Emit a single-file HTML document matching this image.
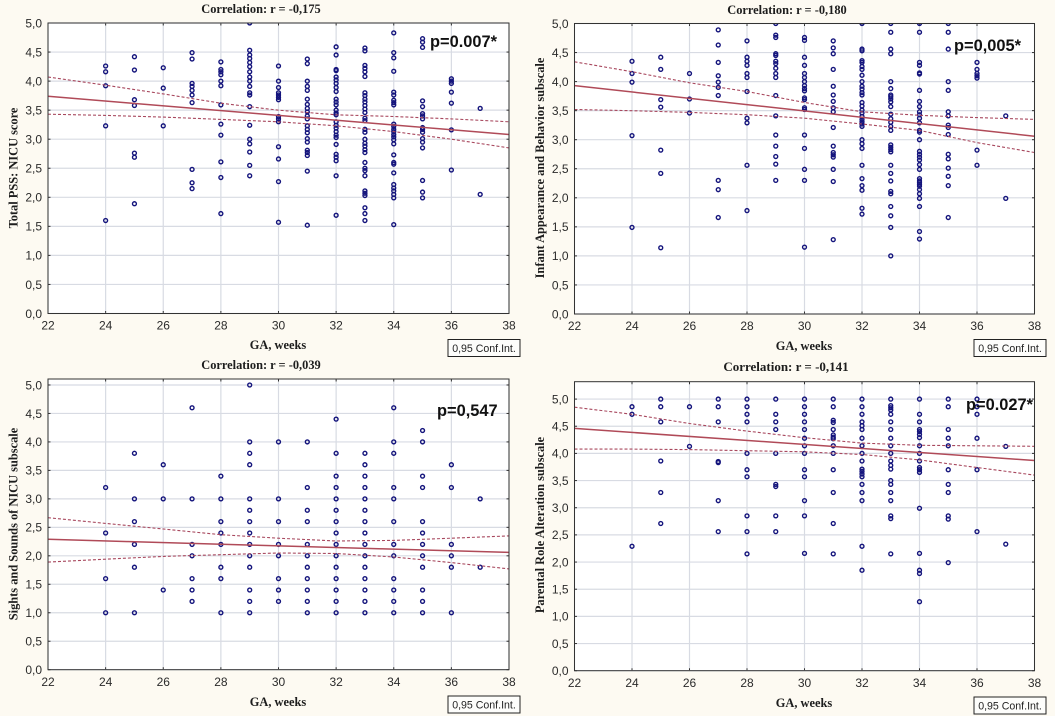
<!DOCTYPE html>
<html lang="en">
<head>
<meta charset="utf-8">
<title>PSS: NICU correlations with gestational age</title>
<style>
  html, body { margin: 0; padding: 0; background: #fdfaf2; }
  body { width: 1055px; height: 716px; overflow: hidden; }
  svg { display: block; filter: blur(0.3px); }
  .title, .xtitle, .ytitle { font-family: "Liberation Serif", serif; font-weight: bold; fill: #1d1d1d; }
  .title { font-size: 12.4px; text-anchor: middle; }
  .xtitle { font-size: 12.4px; text-anchor: middle; }
  .ytitle { font-size: 12.4px; text-anchor: middle; }
  .tick { font-family: "Liberation Sans", sans-serif; font-size: 12px; fill: #2b2b2b; }
  .pval { font-family: "Liberation Sans", sans-serif; font-weight: bold; font-size: 16.4px; fill: #111; }
  .conf { font-family: "Liberation Sans", sans-serif; font-size: 10.6px; fill: #222; text-anchor: middle; }
</style>
</head>
<body>
<svg id="figure" width="1055" height="716" viewBox="0 0 1055 716" xmlns="http://www.w3.org/2000/svg">
  <rect x="0" y="0" width="1055" height="716" fill="#fdfaf2"/>

  <g id="panel-a"></g>
  <g id="panel-b"></g>
  <g id="panel-c"></g>
  <g id="panel-d"></g>

  <text class="title" x="261" y="13">Correlation: r = -0,175</text>
  <text class="xtitle" x="278" y="349">GA, weeks</text>
  <text class="ytitle" transform="translate(17.5,168) rotate(-90)">Total PSS: NICU score</text>
  <text class="pval" x="430" y="47">p=0.007*</text>
  <rect x="448" y="339.5" width="72" height="17" fill="#fdfdfb" stroke="#222" stroke-width="1"/>
  <text class="conf" x="484" y="352">0,95 Conf.Int.</text>

  <text class="title" x="787" y="14">Correlation: r = -0,180</text>
  <text class="xtitle" x="804" y="350">GA, weeks</text>
  <text class="ytitle" transform="translate(544,168) rotate(-90)">Infant Appearance and Behavior subscale</text>
  <text class="pval" x="954" y="51">p=0,005*</text>
  <rect x="974" y="339.5" width="72" height="17" fill="#fdfdfb" stroke="#222" stroke-width="1"/>
  <text class="conf" x="1010" y="352">0,95 Conf.Int.</text>

  <text class="title" x="261" y="369">Correlation: r = -0,039</text>
  <text class="xtitle" x="278" y="706">GA, weeks</text>
  <text class="ytitle" transform="translate(17.5,524) rotate(-90)">Sights and Sounds of NICU subscale</text>
  <text class="pval" x="437" y="416">p=0,547</text>
  <rect x="448" y="696" width="72" height="17" fill="#fdfdfb" stroke="#222" stroke-width="1"/>
  <text class="conf" x="484" y="708.5">0,95 Conf.Int.</text>

  <text class="title" x="786" y="371" style="font-size:13px">Correlation: r = -0,141</text>
  <text class="xtitle" x="804" y="707">GA, weeks</text>
  <text class="ytitle" transform="translate(544,525) rotate(-90)">Parental Role Alteration subscale</text>
  <text class="pval" x="966" y="410">p=0.027*</text>
  <rect x="974" y="697" width="72" height="17" fill="#fdfdfb" stroke="#222" stroke-width="1"/>
  <text class="conf" x="1010" y="709.5">0,95 Conf.Int.</text>
</svg>

<script>
// ---- shared axis data ----
const xTicks = [22, 24, 26, 28, 30, 32, 34, 36, 38];
const yTicks = [0, 0.5, 1, 1.5, 2, 2.5, 3, 3.5, 4, 4.5, 5];
const yTickLabels = ["0,0", "0,5", "1,0", "1,5", "2,0", "2,5", "3,0", "3,5", "4,0", "4,5", "5,0"];
const weeks = [24, 25, 26, 27, 28, 29, 30, 31, 32, 33, 34, 35, 36, 37];
const fitEnds = [22, 38];
const bandWeeks = [22, 24, 26, 28, 30, 32, 34, 36, 38];

// ---- Total PSS: NICU score (one list per entry of weeks) ----
const totalPssScores = [
  [4.26, 4.16, 3.92, 3.23, 1.6],
  [4.42, 4.19, 3.68, 3.58, 2.76, 2.69, 1.89],
  [4.23, 3.88, 3.23],
  [4.49, 4.38, 3.96, 3.91, 3.84, 3.76, 3.63, 2.48, 2.25, 2.15],
  [4.33, 4.2, 4.16, 4.11, 4.0, 3.92, 3.59, 3.26, 3.07, 2.61, 2.34, 1.72],
  [5.0, 4.53, 4.45, 4.39, 4.32, 4.25, 4.16, 4.07, 4.0, 3.91, 3.8, 3.76, 3.56, 3.24, 3.0, 2.92, 2.78, 2.55, 2.37],
  [4.26, 4.0, 3.89, 3.8, 3.76, 3.72, 3.68, 3.39, 3.35, 3.3, 2.87, 2.66, 2.27, 1.57],
  [4.38, 4.3, 4.0, 3.91, 3.84, 3.69, 3.6, 3.53, 3.47, 3.4, 3.35, 3.23, 3.17, 3.11, 3.01, 2.95, 2.81, 2.77, 2.72, 2.45, 1.52],
  [4.59, 4.45, 4.2, 4.18, 4.07, 4.02, 3.96, 3.89, 3.82, 3.69, 3.64, 3.59, 3.5, 3.45, 3.42, 3.3, 3.24, 3.19, 3.13, 3.07, 3.03, 2.91, 2.74, 2.69, 2.63, 2.37, 1.69],
  [4.57, 4.52, 4.27, 4.22, 4.16, 4.08, 3.8, 3.75, 3.69, 3.64, 3.58, 3.52, 3.46, 3.36, 3.32, 3.17, 3.12, 3.0, 2.93, 2.88, 2.82, 2.77, 2.6, 2.5, 2.46, 2.37, 2.11, 2.07, 2.03, 1.82, 1.72, 1.6],
  [4.83, 4.49, 4.4, 4.17, 3.81, 3.76, 3.67, 3.63, 3.59, 3.26, 3.22, 3.17, 3.13, 3.08, 3.04, 2.99, 2.92, 2.73, 2.6, 2.57, 2.42, 2.22, 2.16, 2.11, 2.05, 1.99, 1.53],
  [4.73, 4.67, 4.58, 3.66, 3.56, 3.44, 3.4, 3.35, 3.2, 3.17, 3.12, 3.01, 2.95, 2.85, 2.29, 2.09, 1.99],
  [4.04, 4.0, 3.96, 3.81, 3.62, 3.16, 2.47],
  [3.53, 2.05]
];
const totalPssFit = [3.74, 3.08];
const totalPssUpper = [4.07, 3.93, 3.78, 3.62, 3.5, 3.42, 3.39, 3.35, 3.3];
const totalPssLower = [3.43, 3.41, 3.38, 3.34, 3.3, 3.23, 3.13, 3.0, 2.85];

// ---- Infant Appearance and Behavior subscale ----
const infantScores = [
  [4.35, 4.14, 3.99, 3.07, 1.49],
  [4.42, 4.21, 3.69, 3.56, 2.82, 2.42, 1.14],
  [4.14, 3.7, 3.46],
  [4.89, 4.63, 4.33, 4.1, 3.99, 3.9, 3.76, 2.3, 2.14, 1.66],
  [4.7, 4.42, 4.35, 4.28, 4.14, 4.07, 3.83, 3.37, 3.29, 2.56, 1.78],
  [5.0, 4.8, 4.76, 4.48, 4.45, 4.35, 4.31, 4.23, 4.14, 4.07, 3.76, 3.41, 3.08, 2.89, 2.71, 2.58, 2.3],
  [4.76, 4.71, 4.42, 4.28, 4.14, 4.07, 4.0, 3.93, 3.88, 3.84, 3.72, 3.69, 3.55, 3.52, 3.08, 2.85, 2.49, 2.3, 1.15],
  [4.7, 4.58, 4.48, 4.21, 3.92, 3.77, 3.66, 3.55, 3.48, 3.21, 2.89, 2.78, 2.74, 2.7, 2.49, 2.28, 1.28],
  [5.0, 4.56, 4.53, 4.36, 4.33, 4.26, 4.21, 4.11, 4.0, 3.92, 3.87, 3.81, 3.77, 3.64, 3.58, 3.51, 3.46, 3.4, 3.35, 3.31, 3.27, 3.23, 3.0, 2.93, 2.85, 2.56, 2.33, 2.21, 2.13, 1.82, 1.72],
  [5.0, 4.85, 4.56, 4.48, 4.0, 3.88, 3.77, 3.74, 3.7, 3.65, 3.57, 3.44, 3.36, 3.3, 3.23, 3.16, 2.91, 2.87, 2.83, 2.79, 2.56, 2.42, 2.29, 2.11, 2.07, 1.85, 1.69, 1.49, 1.0],
  [5.0, 4.85, 4.33, 4.28, 4.15, 4.13, 3.85, 3.66, 3.57, 3.48, 3.43, 3.37, 3.29, 3.16, 3.13, 3.0, 2.8, 2.75, 2.7, 2.65, 2.57, 2.49, 2.33, 2.29, 2.26, 2.23, 2.2, 2.14, 2.07, 1.99, 1.85, 1.42, 1.29],
  [5.0, 4.85, 4.56, 4.0, 3.85, 3.48, 3.41, 3.25, 3.21, 3.09, 2.75, 2.67, 2.51, 2.37, 2.21, 1.66],
  [4.33, 4.21, 4.14, 4.1, 4.06, 2.82, 2.56],
  [3.41, 1.99]
];
const infantFit = [3.93, 3.06];
const infantUpper = [4.34, 4.17, 3.98, 3.83, 3.64, 3.48, 3.42, 3.38, 3.35];
const infantLower = [3.52, 3.5, 3.47, 3.43, 3.37, 3.27, 3.16, 2.95, 2.78];

// ---- Sights and Sounds of NICU subscale ----
const sightsScores = [
  [3.2, 2.4, 1.6, 1.0],
  [3.8, 3.0, 2.6, 2.2, 1.8, 1.0],
  [3.6, 3.0, 1.4],
  [4.6, 3.0, 2.2, 2.0, 1.6, 1.4, 1.2],
  [3.4, 3.0, 2.6, 2.4, 2.2, 1.8, 1.6, 1.0],
  [5.0, 4.0, 3.8, 3.6, 3.0, 2.8, 2.6, 2.4, 2.2, 2.0, 1.8, 1.4, 1.2, 1.0],
  [4.0, 3.0, 2.6, 2.2, 2.0, 1.6, 1.4, 1.2],
  [4.0, 3.2, 2.8, 2.6, 2.2, 2.0, 1.8, 1.6, 1.4, 1.2, 1.0],
  [4.4, 3.8, 3.4, 3.2, 3.0, 2.8, 2.6, 2.4, 2.2, 2.0, 1.8, 1.6, 1.4, 1.2, 1.0],
  [3.8, 3.6, 3.4, 3.2, 3.0, 2.8, 2.6, 2.4, 2.2, 2.0, 1.8, 1.6, 1.4, 1.2, 1.0],
  [4.6, 4.0, 3.8, 3.2, 3.0, 2.6, 2.2, 2.0, 1.6, 1.4, 1.2, 1.0],
  [4.2, 4.0, 3.4, 3.2, 2.6, 2.4, 2.2, 2.0, 1.8, 1.4, 1.2, 1.0],
  [3.6, 3.2, 2.2, 2.0, 1.8, 1.0],
  [3.0, 1.8]
];
const sightsFit = [2.29, 2.06];
const sightsUpper = [2.67, 2.57, 2.47, 2.37, 2.31, 2.26, 2.27, 2.31, 2.35];
const sightsLower = [1.89, 1.94, 1.99, 2.02, 2.05, 2.04, 1.98, 1.88, 1.77];

// ---- Parental Role Alteration subscale ----
const parentalScores = [
  [4.86, 4.72, 2.29],
  [5.0, 4.86, 4.58, 3.86, 3.28, 2.71],
  [4.86, 4.13],
  [5.0, 4.86, 4.58, 3.85, 3.83, 3.13, 2.56],
  [5.0, 4.86, 4.72, 4.58, 4.0, 3.7, 3.57, 2.85, 2.56, 2.15],
  [5.0, 4.72, 4.58, 4.44, 4.0, 3.43, 3.39, 2.85, 2.56],
  [5.0, 4.86, 4.72, 4.58, 4.44, 4.28, 4.14, 4.0, 3.7, 3.57, 3.13, 2.85, 2.16],
  [5.0, 4.86, 4.61, 4.57, 4.44, 4.34, 4.3, 4.27, 4.14, 4.0, 3.7, 3.28, 2.71, 2.15],
  [5.0, 4.86, 4.72, 4.58, 4.51, 4.44, 4.28, 4.14, 4.0, 3.86, 3.71, 3.67, 3.62, 3.57, 3.43, 3.28, 3.13, 2.29, 1.85],
  [5.0, 4.88, 4.84, 4.8, 4.72, 4.58, 4.44, 4.28, 4.14, 4.0, 3.86, 3.78, 3.71, 3.5, 3.43, 3.28, 3.13, 2.85, 2.8, 2.15],
  [5.0, 4.72, 4.58, 4.44, 4.4, 4.35, 4.29, 4.14, 4.0, 3.86, 3.74, 3.7, 3.65, 2.99, 2.16, 1.85, 1.79, 1.27],
  [5.0, 4.86, 4.44, 4.28, 4.14, 3.7, 3.43, 3.28, 2.85, 2.79, 1.99],
  [5.0, 4.86, 4.72, 4.28, 3.7, 2.56],
  [4.13, 2.33]
];
const parentalFit = [4.46, 3.87];
const parentalUpper = [4.85, 4.72, 4.55, 4.41, 4.29, 4.19, 4.15, 4.14, 4.13];
const parentalLower = [4.08, 4.08, 4.07, 4.05, 4.03, 3.98, 3.88, 3.74, 3.6];

const NS = "http://www.w3.org/2000/svg";

function make(tag, attrs, parent) {
  const el = document.createElementNS(NS, tag);
  for (const k in attrs) el.setAttribute(k, attrs[k]);
  parent.appendChild(el);
  return el;
}

function drawPanel(cfg) {
  const g = document.getElementById(cfg.id);
  const xDomain = [22, 38];
  const sx = v => cfg.left + (v - xDomain[0]) / (xDomain[1] - xDomain[0]) * (cfg.right - cfg.left);
  const sy = v => cfg.bottom - v / cfg.yMax * (cfg.bottom - cfg.top);

  const plot = make("rect", { x: cfg.left, y: cfg.top, width: cfg.right - cfg.left, height: cfg.bottom - cfg.top, fill: "#ffffff" }, g);
  
  

  const clip = make("clipPath", { id: cfg.id + "-clip" }, g);
  make("rect", { x: cfg.left, y: cfg.top, width: cfg.right - cfg.left, height: cfg.bottom - cfg.top }, clip);

  xTicks.forEach(t => {
    const line = make("line", { x1: sx(t), x2: sx(t), y1: cfg.top, y2: cfg.bottom, stroke: "#d8dbe3", "stroke-width": 1.2 }, g);
    
    
    [[cfg.top, cfg.top + 2.5], [cfg.bottom - 2.5, cfg.bottom]].forEach(p => {
      const mark = make("line", { x1: sx(t), x2: sx(t), y1: p[0], y2: p[1], stroke: "#333", "stroke-width": 1 }, g);
      
      
    });
    const label = make("text", { class: "tick", x: sx(t), y: cfg.bottom + 16.2, "text-anchor": "middle" }, g);
    
    
    label.textContent = String(t);
  });

  yTicks.forEach((t, i) => {
    const line = make("line", { x1: cfg.left, x2: cfg.right, y1: sy(t), y2: sy(t), stroke: "#d8dbe3", "stroke-width": 1.2 }, g);
    
    
    [[cfg.left, cfg.left + 2.5], [cfg.right - 2.5, cfg.right]].forEach(p => {
      const mark = make("line", { x1: p[0], x2: p[1], y1: sy(t), y2: sy(t), stroke: "#333", "stroke-width": 1 }, g);
      
      
    });
    const label = make("text", { class: "tick", x: cfg.left - 6, y: sy(t) + 4.3, "text-anchor": "end" }, g);
    
    
    label.textContent = yTickLabels[i];
  });

  const points = make("g", { "clip-path": "url(#" + cfg.id + "-clip)" }, g);
  
  
  cfg.scores.forEach((list, i) => {
    list.forEach(v => {
      const c = make("circle", { cx: sx(weeks[i]), cy: sy(v), r: 1.95, fill: "none", stroke: "#14147c", "stroke-width": 1.4 }, points);
      
      
    });
  });

  const fit = make("line", { x1: sx(fitEnds[0]), y1: sy(cfg.fit[0]), x2: sx(fitEnds[1]), y2: sy(cfg.fit[1]), stroke: "#b04a58", "stroke-width": 1.5 }, g);
  
  

  const toPath = arr => arr.map((v, i) => (i ? "L" : "M") + sx(bandWeeks[i]).toFixed(1) + " " + sy(v).toFixed(1)).join(" ");
  const up = make("path", { d: toPath(cfg.upper), fill: "none", stroke: "#a8485e", "stroke-width": 1.1, "stroke-dasharray": "3 2" }, g);
  
  
  const low = make("path", { d: toPath(cfg.lower), fill: "none", stroke: "#a8485e", "stroke-width": 1.1, "stroke-dasharray": "3 2" }, g);
  
  

  const frame = make("rect", { x: cfg.left, y: cfg.top, width: cfg.right - cfg.left, height: cfg.bottom - cfg.top, fill: "none", stroke: "#333", "stroke-width": 1 }, g);
  
  
}

drawPanel({ id: "panel-a", left: 48, right: 509, top: 23, bottom: 313.5, yMax: 5, scores: totalPssScores, fit: totalPssFit, upper: totalPssUpper, lower: totalPssLower });
drawPanel({ id: "panel-b", left: 574.5, right: 1034.5, top: 23.5, bottom: 314, yMax: 5, scores: infantScores, fit: infantFit, upper: infantUpper, lower: infantLower });
drawPanel({ id: "panel-c", left: 48, right: 509, top: 379, bottom: 669.7, yMax: 5.105, scores: sightsScores, fit: sightsFit, upper: sightsUpper, lower: sightsLower });
drawPanel({ id: "panel-d", left: 574.5, right: 1034.5, top: 381.7, bottom: 670.7, yMax: 5.32, scores: parentalScores, fit: parentalFit, upper: parentalUpper, lower: parentalLower });
</script>
</body>
</html>
